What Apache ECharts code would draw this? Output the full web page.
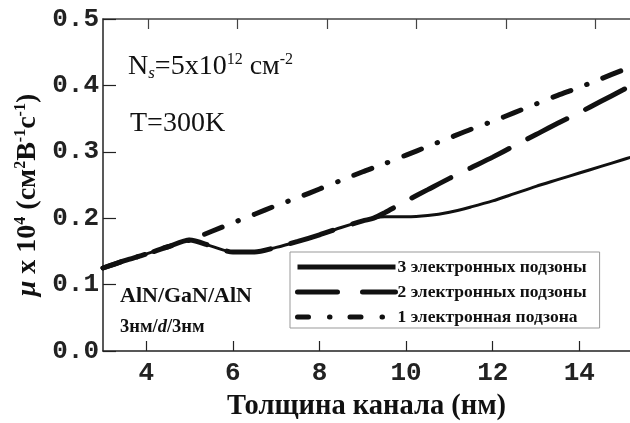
<!DOCTYPE html>
<html>
<head>
<meta charset="utf-8">
<script src="https://cdn.jsdelivr.net/npm/echarts@6/dist/echarts.min.js"></script>
<style>html,body{margin:0;padding:0;background:#fff}#c{width:630px;height:423px}</style>
</head>
<body>
<div id="c"></div>
<script>
// Channel thickness, nm
var thickness = [3, 3.5, 4, 4.5, 5, 5.5, 6, 6.5, 7, 7.5, 8, 8.5, 9, 9.25, 9.5, 10, 10.5, 11, 11.5, 12, 12.5, 13, 13.5, 14, 14.5, 15, 15.2];
// mobility x 10^4 (cm^2 V^-1 s^-1)
var threeSub = [0.125, 0.136, 0.146, 0.157, 0.167, 0.158, 0.149, 0.149, 0.156, 0.165, 0.175, 0.186, 0.196, 0.200, 0.202, 0.202, 0.204, 0.209, 0.217, 0.226, 0.237, 0.248, 0.258, 0.268, 0.278, 0.288, 0.292];
var twoSub = [0.125, 0.136, 0.146, 0.157, 0.167, 0.158, 0.149, 0.149, 0.156, 0.165, 0.175, 0.186, 0.196, 0.200, 0.208, 0.226, 0.243, 0.260, 0.276, 0.292, 0.309, 0.326, 0.343, 0.359, 0.376, 0.393, 0.400];
var oneSub = [0.125, 0.136, 0.146, 0.157, 0.167, 0.180, 0.193, 0.206, 0.219, 0.231, 0.244, 0.257, 0.270, 0.276, 0.282, 0.295, 0.308, 0.321, 0.334, 0.346, 0.359, 0.372, 0.385, 0.397, 0.410, 0.423, 0.428];
var seriesNames = ['3 электронных подзоны', '2 электронных подзоны', '1 электронная подзона'];
var xTicks = [4, 6, 8, 10, 12, 14];

function pairs(ys) { return thickness.map(function (x, i) { return [x, ys[i]]; }); }

var serif = 'Liberation Serif';
var mono = 'Liberation Mono';
var chart = echarts.init(document.getElementById('c'), null, { renderer: 'canvas' });
chart.setOption({
  animation: false,
  backgroundColor: '#fff',
  color: ['#111', '#111', '#111'],
  grid: { left: 103, right: 0, top: 19, bottom: 72, containLabel: false, outerBoundsMode: 'none' },
  xAxis: [{
    type: 'value', min: 3, max: 15.17,
    name: 'Толщина канала (нм)', nameLocation: 'middle', nameGap: 41,
    nameTextStyle: { fontFamily: serif, fontWeight: 'bold', fontSize: 28.5, color: '#111' },
    axisLine: { show: true, lineStyle: { color: '#222', width: 1.5 } },
    axisTick: { show: true, inside: true, length: 10, customValues: xTicks, lineStyle: { color: '#222', width: 1.2 } },
    axisLabel: { customValues: xTicks, margin: 9, fontFamily: mono, fontWeight: 'bold', fontSize: 26, color: '#222' },
    splitLine: { show: false }
  }, {
    type: 'value', min: 3, max: 14.77, position: 'top',
    axisLine: { show: true, onZero: false, lineStyle: { color: '#444', width: 1.5 } },
    axisTick: { show: true, inside: true, length: 10, customValues: xTicks, lineStyle: { color: '#444', width: 1.2 } },
    axisLabel: { show: false },
    splitLine: { show: false }
  }],
  yAxis: {
    type: 'value', min: 0, max: 0.5, interval: 0.1,
    name: '{i|μ}{b| x 10}{sup|4}{b| (см}{sup|2}{b|В}{sup|-1}{b|с}{sup|-1}{b|)}',
    nameLocation: 'middle', nameRotate: 90, nameGap: 54,
    nameTextStyle: {
      color: '#111', padding: [0, 20, 0, 0],
      rich: {
        i: { fontFamily: serif, fontStyle: 'italic', fontWeight: 'bold', fontSize: 28, lineHeight: 28, color: '#111' },
        b: { fontFamily: serif, fontWeight: 'bold', fontSize: 28, lineHeight: 28, color: '#111' },
        sup: { fontFamily: serif, fontWeight: 'bold', fontSize: 16, lineHeight: 16, verticalAlign: 'top', color: '#111' }
      }
    },
    axisLine: { show: true, lineStyle: { color: '#222', width: 1.5 } },
    axisTick: { show: true, inside: true, length: 13, lineStyle: { color: '#222', width: 1.2 } },
    axisLabel: { margin: 4, fontFamily: mono, fontWeight: 'bold', fontSize: 26, color: '#222',
      formatter: function (v) { return v.toFixed(1); } },
    splitLine: { show: false }
  },
  legend: {
    orient: 'vertical', left: 290, top: 252,
    itemWidth: 98, itemHeight: 14, itemGap: 7,
    padding: [6, 13, 2, 5],
    borderColor: '#999', borderWidth: 1, backgroundColor: '#fff',
    textStyle: { fontFamily: serif, fontWeight: 'bold', fontSize: 17.5, color: '#111', padding: [0, 0, 0, -3] },
    data: [
      { name: seriesNames[0], itemStyle: { opacity: 0 }, lineStyle: { width: 5, type: 'solid', color: '#111' } },
      { name: seriesNames[1], itemStyle: { opacity: 0 }, lineStyle: { width: 5, type: [40, 25], cap: 'round', color: '#111' } },
      { name: seriesNames[2], itemStyle: { opacity: 0 }, lineStyle: { width: 5, type: [11, 21, 0.5, 20], cap: 'round', color: '#111' } }
    ]
  },
  graphic: [
    { type: 'text', left: 128, top: 52, style: {
        text: '{n|N}{sub|s}{n|=5x10}{sup|12}{n| см}{sup|-2}',
        rich: {
          n: { fontFamily: serif, fontSize: 28, lineHeight: 30, fill: '#111' },
          sub: { fontFamily: serif, fontStyle: 'italic', fontSize: 17, lineHeight: 17, verticalAlign: 'bottom', fill: '#111' },
          sup: { fontFamily: serif, fontSize: 16, lineHeight: 16, verticalAlign: 'top', fill: '#111' }
        } } },
    { type: 'text', left: 130, top: 110, style: { text: 'T=300K', font: '28px "Liberation Serif"', fill: '#111' } },
    { type: 'text', left: 120, top: 285, style: { text: 'AlN/GaN/AlN', font: 'bold 22px "Liberation Serif"', fill: '#111' } },
    { type: 'text', left: 120, top: 318, style: {
        text: '{b|3нм/}{i|d}{b|/3нм}',
        rich: {
          b: { fontFamily: serif, fontWeight: 'bold', fontSize: 18.5, fill: '#111' },
          i: { fontFamily: serif, fontWeight: 'bold', fontStyle: 'italic', fontSize: 18.5, fill: '#111' }
        } } }
  ],
  series: [
    { name: seriesNames[0], type: 'line', symbol: 'none', smooth: 0.25, data: pairs(threeSub), z: 3,
      itemStyle: { color: '#111' }, lineStyle: { color: '#111', width: 3 } },
    { name: seriesNames[1], type: 'line', symbol: 'none', smooth: 0.25, data: pairs(twoSub), z: 4,
      itemStyle: { color: '#111' }, lineStyle: { color: '#111', width: 5, type: [44, 21], cap: 'round' } },
    { name: seriesNames[2], type: 'line', symbol: 'none', smooth: 0.25, data: pairs(oneSub), z: 2,
      itemStyle: { color: '#111' }, lineStyle: { color: '#111', width: 5, type: [19, 17, 0.5, 17], cap: 'round' } }
  ]
});
</script>
</body>
</html>
